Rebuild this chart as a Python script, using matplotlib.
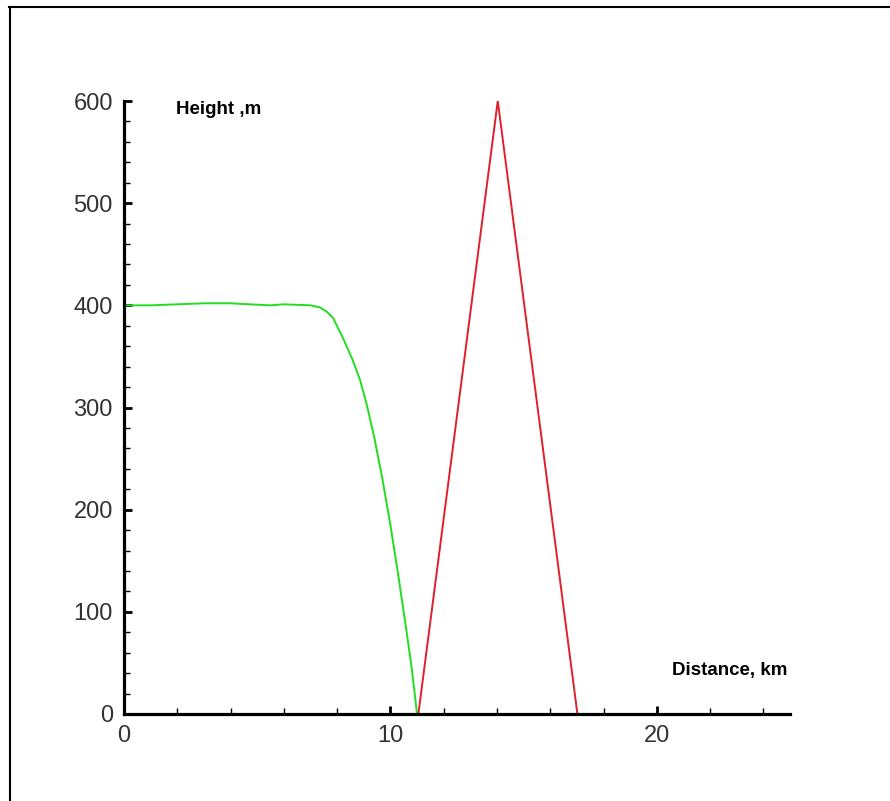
import matplotlib
matplotlib.use("Agg")
import matplotlib.pyplot as plt
from matplotlib.ticker import MultipleLocator
from matplotlib.lines import Line2D

plt.rcParams['font.family'] = ['Liberation Sans', 'DejaVu Sans']

# Green profile (distance km, height m)
green_x = [0, 1, 2, 3, 4, 4.7, 5.5, 6.0, 7.0, 7.35, 7.6, 7.84, 8.22, 8.59, 8.86, 9.12, 9.4, 9.7, 10.0, 10.3, 10.6, 10.8, 11.0]
green_y = [400, 400, 401, 402, 402, 401, 400, 401, 400, 398, 394, 388, 368, 346, 327, 302, 270, 230, 185, 135, 82, 45, 0]

# Red profile
red_x = [11.05, 14.03, 17.02]
red_y = [0, 600, 0]

x_major = [0, 10, 20]
y_major = [0, 100, 200, 300, 400, 500, 600]

fig = plt.figure(figsize=(8.9, 8.01), dpi=100)
ax = fig.add_axes([124/890, 87/801, 666/890, 613/801])

ax.plot(green_x, green_y, color='#22dd22', lw=1.4, solid_joinstyle='round')
ax.plot(red_x, red_y, color='#e0202a', lw=1.4)

ax.set_xlim(0, 25)
ax.set_ylim(0, 600)
ax.set_xticks(x_major)
ax.set_yticks(y_major)
ax.xaxis.set_minor_locator(MultipleLocator(2))
ax.yaxis.set_minor_locator(MultipleLocator(20))

for s in ['top', 'right']:
    ax.spines[s].set_visible(False)
for s in ['left', 'bottom']:
    ax.spines[s].set_linewidth(2.3)
    ax.spines[s].set_color('black')

ax.tick_params(which='major', direction='in', length=6, width=2, labelsize=17, labelcolor='#333333')
ax.tick_params(which='minor', direction='in', length=4, width=1)
ax.tick_params(axis='y', which='major', pad=8)
ax.tick_params(axis='x', which='major', pad=8)

ax.text(1.95, 592, 'Height ,m', fontsize=13.5, fontweight='bold', ha='left', va='center')
ax.text(20.56, 43, 'Distance, km', fontsize=13.5, fontweight='bold', ha='left', va='center')

# frame lines (top and left)
fig.add_artist(Line2D([9/890, 1.0], [1 - 6.5/801, 1 - 6.5/801], transform=fig.transFigure, color='black', lw=1.5))
fig.add_artist(Line2D([9.5/890, 9.5/890], [0, 1 - 6.5/801], transform=fig.transFigure, color='black', lw=1.5))

fig.savefig('out.png', dpi=100)
